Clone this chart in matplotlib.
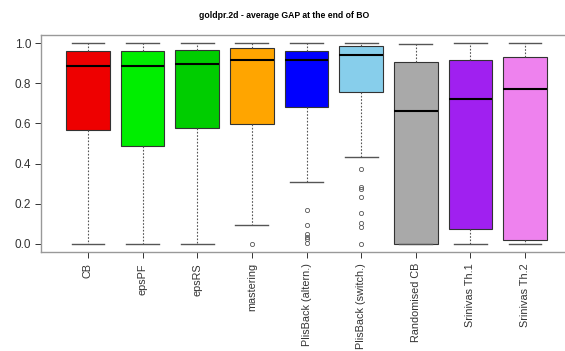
import matplotlib
matplotlib.use("Agg")
import matplotlib.pyplot as plt

plt.rcParams['font.family'] = ['Liberation Sans', 'DejaVu Sans']

methods = ["CB", "epsPF", "epsRS", "mastering", "PlisBack (altern.)",
           "PlisBack (switch.)", "Randomised CB", "Srinivas Th.1", "Srinivas Th.2"]
colors = ["#EE0000", "#00EE00", "#00CD00", "#FFA500", "#0000FF",
          "#87CEEB", "#A9A9A9", "#A020F0", "#EE82EE"]

# five-number summaries of the final GAP per method
whislo = [0.0, 0.0, 0.0, 0.093, 0.308, 0.432, 0.0, 0.0, 0.0]
q1 = [0.566, 0.487, 0.578, 0.598, 0.682, 0.755, 0.0, 0.073, 0.020]
med = [0.884, 0.886, 0.894, 0.914, 0.917, 0.940, 0.661, 0.719, 0.770]
q3 = [0.960, 0.960, 0.964, 0.975, 0.960, 0.984, 0.907, 0.917, 0.932]
whishi = [1.0, 1.0, 1.0, 1.0, 1.0, 1.0, 0.997, 1.0, 1.0]
outliers = [
    [], [], [],
    [0.0],
    [0.167, 0.094, 0.05, 0.036, 0.023, 0.003],
    [0.373, 0.285, 0.272, 0.234, 0.152, 0.103, 0.086, 0.0],
    [], [], [],
]

stats = []
for i, name in enumerate(methods):
    stats.append(dict(label=name, whislo=whislo[i], q1=q1[i], med=med[i],
                      q3=q3[i], whishi=whishi[i], fliers=outliers[i]))

fig = plt.figure(figsize=(5.65, 3.51), dpi=100)
ax = fig.add_axes([41 / 565, 1 - 252 / 351, (572 - 41) / 565, (252 - 35) / 351])

bp = ax.bxp(stats, positions=range(1, 10), widths=0.8, patch_artist=True,
            boxprops=dict(edgecolor="#333333", linewidth=0.8),
            medianprops=dict(color="black", linewidth=1.5),
            whiskerprops=dict(color="#555555", linestyle=(0, (1.5, 1.5)), linewidth=0.8),
            capprops=dict(color="#555555", linewidth=1.0),
            flierprops=dict(marker="o", markersize=3, markerfacecolor="none",
                            markeredgecolor="#555555", markeredgewidth=0.6))
for patch, c in zip(bp["boxes"], colors):
    patch.set_facecolor(c)
for cap in bp["caps"]:
    x = cap.get_xdata()
    mid = (x[0] + x[1]) / 2
    cap.set_xdata([mid - 0.3, mid + 0.3])

ax.set_xlim(0.14, 9.86)
ax.set_ylim(-0.04, 1.04)
ax.set_yticks([0.0, 0.2, 0.4, 0.6, 0.8, 1.0])
ax.set_yticklabels(["0.0", "0.2", "0.4", "0.6", "0.8", "1.0"], fontsize=8.5)
ax.set_xticks(range(1, 10))
ax.set_xticklabels(methods, rotation=90, fontsize=7.8)
ax.tick_params(colors="#333333", length=4, width=0.7, pad=3)
ax.tick_params(axis="x", pad=4)
for s in ax.spines.values():
    s.set_color("#999999")
    s.set_linewidth(1.0)

fig.text(284 / 565, 1 - 16 / 351, "goldpr.2d - average GAP at the end of BO",
         ha="center", va="center", fontsize=6.2, fontweight="bold")

fig.savefig("out.png", dpi=100)
